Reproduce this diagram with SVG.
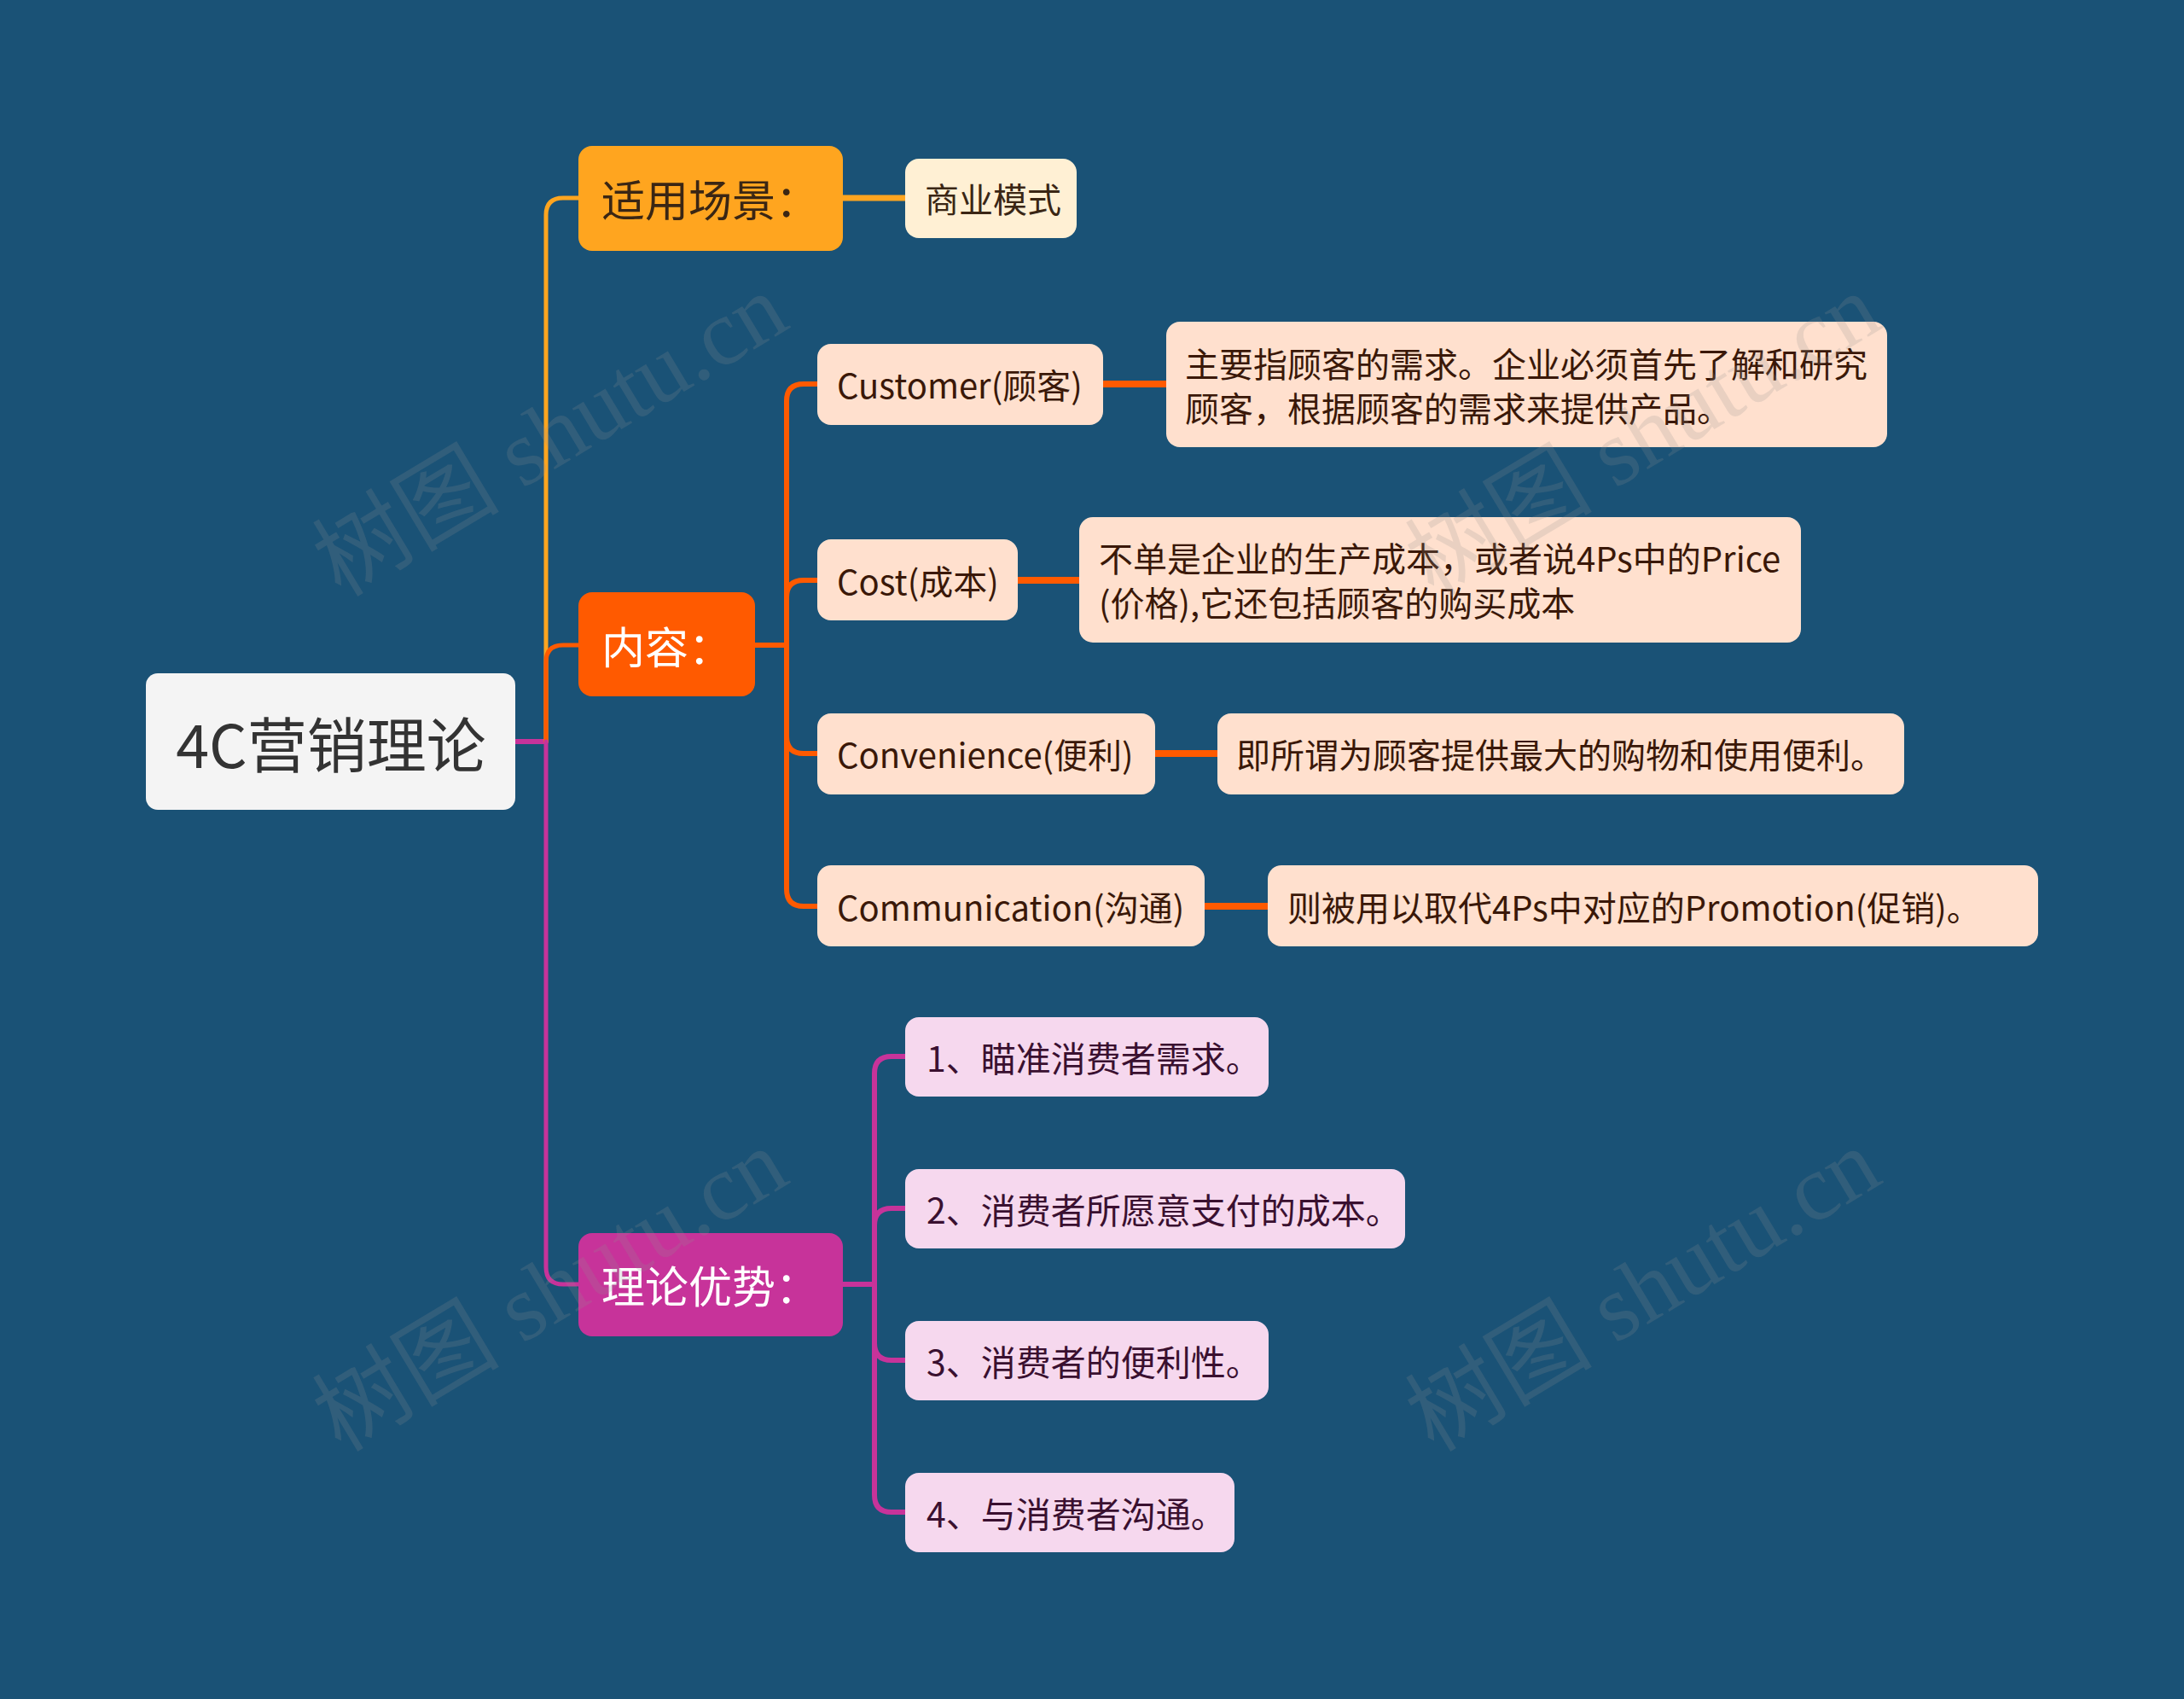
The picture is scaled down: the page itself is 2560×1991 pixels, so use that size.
<svg xmlns="http://www.w3.org/2000/svg" width="2560" height="1991" viewBox="0 0 2560 1991">
<style>
text{font-family:"Noto Sans CJK SC","Noto Sans",sans-serif;}
.l{dominant-baseline:central;}
.c1{fill:#FFA51F}.c2{fill:#FF5A00}.c3{fill:#C7339A}
.s1{fill:#FFF0D4}.s2{fill:#FFE0CE}.s3{fill:#F6D8EE}
.dk1{fill:#3A2614}.dk2{fill:#3A1808}.dk3{fill:#3A1030}
.wm{font-family:"Liberation Serif","Noto Sans CJK SC",serif;font-size:110px;fill:#909090;fill-opacity:0.2}
</style>
<rect x="0" y="0" width="2560" height="1991" fill="#1A5276"/>
<g id="connectors" fill="none" stroke-linecap="round">
<path d="M604 869 H640" stroke="#C7339A" stroke-width="6"/>
<path d="M640 869 V252 Q640 232 660 232 H678" stroke="#FFA51F" stroke-width="5"/>
<path d="M640 869 V776 Q640 756 660 756 H678" stroke="#FF5A00" stroke-width="5"/>
<path d="M640 869 V1485 Q640 1505 660 1505 H678" stroke="#C7339A" stroke-width="5"/>
<path d="M988 232 H1061" stroke="#FFA51F" stroke-width="7"/>
<path d="M885 756 H922" stroke="#FF5A00" stroke-width="6"/>
<path d="M922 756 V470 Q922 450 942 450 H958" stroke="#FF5A00" stroke-width="6"/>
<path d="M922 756 V700 Q922 680 942 680 H958" stroke="#FF5A00" stroke-width="6"/>
<path d="M922 756 V863 Q922 883 942 883 H958" stroke="#FF5A00" stroke-width="6"/>
<path d="M922 756 V1042 Q922 1062 942 1062 H958" stroke="#FF5A00" stroke-width="6"/>
<path d="M1293 450 H1367" stroke="#FF5A00" stroke-width="8"/>
<path d="M1193 680 H1265" stroke="#FF5A00" stroke-width="8"/>
<path d="M1354 883 H1427" stroke="#FF5A00" stroke-width="8"/>
<path d="M1412 1062 H1486" stroke="#FF5A00" stroke-width="8"/>
<path d="M988 1505 H1025" stroke="#C7339A" stroke-width="6"/>
<path d="M1025 1505 V1258 Q1025 1238 1045 1238 H1061" stroke="#C7339A" stroke-width="6"/>
<path d="M1025 1505 V1436 Q1025 1416 1045 1416 H1061" stroke="#C7339A" stroke-width="6"/>
<path d="M1025 1505 V1574 Q1025 1594 1045 1594 H1061" stroke="#C7339A" stroke-width="6"/>
<path d="M1025 1505 V1752 Q1025 1772 1045 1772 H1061" stroke="#C7339A" stroke-width="6"/>
</g>
<g id="root"><rect x="171" y="789" width="433" height="160" rx="14" fill="#F4F4F4"/><text x="388" y="869" class="l" text-anchor="middle" font-size="70" fill="#333333">4C营销理论</text></g>
<g id="n-scene"><rect class="c1" x="678" y="171" width="310" height="123" rx="16"/><text x="705" y="232" class="l dk1" font-size="51">适用场景：</text></g>
<g id="n-scene-1"><rect class="s1" x="1061" y="186" width="201" height="93" rx="16"/><text x="1084" y="232" class="l dk1" font-size="40">商业模式</text></g>
<g id="n-content"><rect class="c2" x="678" y="694" width="207" height="122" rx="16"/><text x="705" y="756" class="l" font-size="51" fill="#FFFFFF">内容：</text></g>
<g id="n-customer"><rect class="s2" x="958" y="403" width="335" height="95" rx="16"/><text x="981" y="450" class="l dk2" font-size="40">Customer(顾客)</text></g>
<g id="n-customer-d"><rect class="s2" x="1367" y="377" width="845" height="147" rx="16"/><text x="1389" y="425" class="l dk2" font-size="40">主要指顾客的需求。企业必须首先了解和研究</text><text x="1389" y="477" class="l dk2" font-size="40">顾客，根据顾客的需求来提供产品。</text></g>
<g id="n-cost"><rect class="s2" x="958" y="632" width="235" height="95" rx="16"/><text x="981" y="680" class="l dk2" font-size="40">Cost(成本)</text></g>
<g id="n-cost-d"><rect class="s2" x="1265" y="606" width="846" height="147" rx="16"/><text x="1288" y="653" class="l dk2" font-size="40">不单是企业的生产成本，或者说4Ps中的Price</text><text x="1288" y="705" class="l dk2" font-size="40">(价格),它还包括顾客的购买成本</text></g>
<g id="n-conv"><rect class="s2" x="958" y="836" width="396" height="95" rx="16"/><text x="981" y="883" class="l dk2" font-size="40">Convenience(便利)</text></g>
<g id="n-conv-d"><rect class="s2" x="1427" y="836" width="805" height="95" rx="16"/><text x="1449" y="883" class="l dk2" font-size="40">即所谓为顾客提供最大的购物和使用便利。</text></g>
<g id="n-comm"><rect class="s2" x="958" y="1014" width="454" height="95" rx="16"/><text x="981" y="1062" class="l dk2" font-size="40">Communication(沟通)</text></g>
<g id="n-comm-d"><rect class="s2" x="1486" y="1014" width="903" height="95" rx="16"/><text x="1509" y="1062" class="l dk2" font-size="40">则被用以取代4Ps中对应的Promotion(促销)。</text></g>
<g id="n-adv"><rect class="c3" x="678" y="1445" width="310" height="121" rx="16"/><text x="705" y="1505" class="l" font-size="51" fill="#FFFFFF">理论优势：</text></g>
<g id="n-adv-1"><rect class="s3" x="1061" y="1192" width="426" height="93" rx="16"/><text x="1086" y="1238" class="l dk3" font-size="41">1、瞄准消费者需求。</text></g>
<g id="n-adv-2"><rect class="s3" x="1061" y="1370" width="586" height="93" rx="16"/><text x="1086" y="1416" class="l dk3" font-size="41">2、消费者所愿意支付的成本。</text></g>
<g id="n-adv-3"><rect class="s3" x="1061" y="1548" width="426" height="93" rx="16"/><text x="1086" y="1594" class="l dk3" font-size="41">3、消费者的便利性。</text></g>
<g id="n-adv-4"><rect class="s3" x="1061" y="1726" width="386" height="93" rx="16"/><text x="1086" y="1772" class="l dk3" font-size="41">4、与消费者沟通。</text></g>
<g id="watermarks">
<text class="wm" x="645" y="510" text-anchor="middle" dominant-baseline="central" transform="rotate(-31 645 510)">树图 shutu.cn</text>
<text class="wm" x="1926" y="510" text-anchor="middle" dominant-baseline="central" transform="rotate(-31 1926 510)">树图 shutu.cn</text>
<text class="wm" x="645" y="1512" text-anchor="middle" dominant-baseline="central" transform="rotate(-31 645 1512)">树图 shutu.cn</text>
<text class="wm" x="1926" y="1512" text-anchor="middle" dominant-baseline="central" transform="rotate(-31 1926 1512)">树图 shutu.cn</text>
</g>
</svg>
